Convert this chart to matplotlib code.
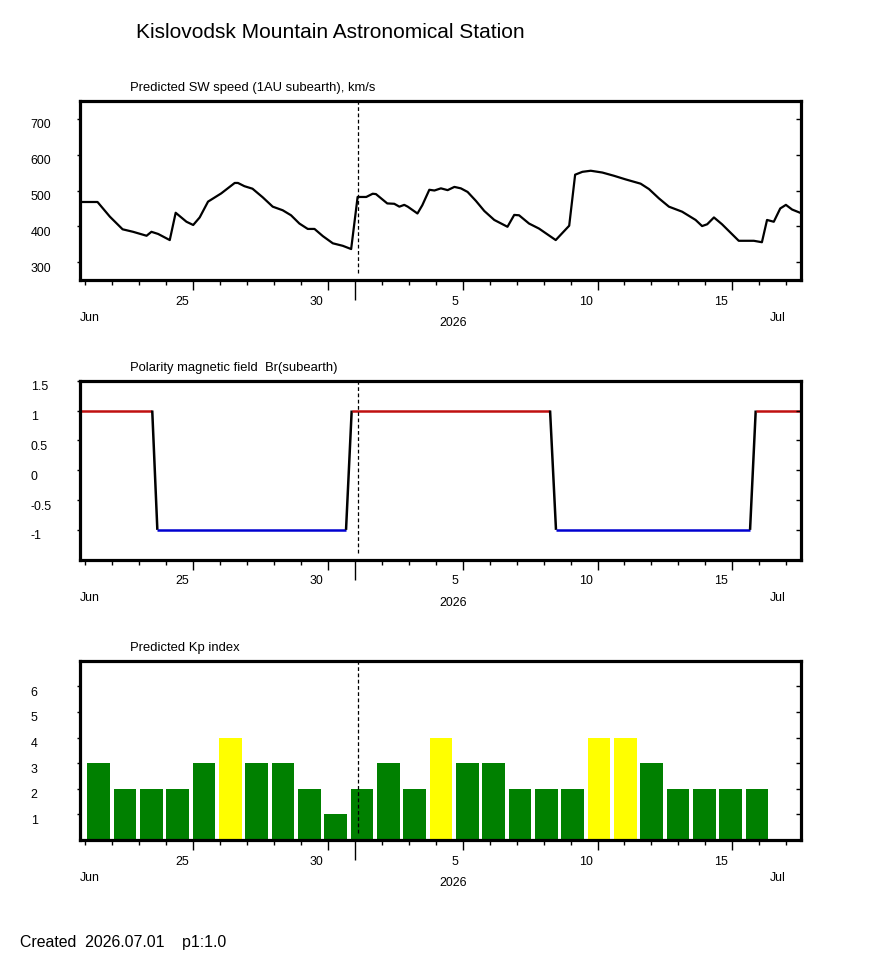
import numpy as np
import matplotlib
matplotlib.use("Agg")
import matplotlib.pyplot as plt
from matplotlib.transforms import ScaledTranslation

plt.rcParams['font.family'] = ['Liberation Sans', 'DejaVu Sans']

# x = day number counted from May 31 (Jun d -> d, Jul d -> 30 + d)
XMIN, XMAX = 20.8, 47.55
NOW_DAY = 31.1

sw_day = [20.8, 21.45, 21.91, 22.38, 22.77, 23.27, 23.45, 23.70, 24.13, 24.35,
          24.75, 25.0, 25.24, 25.55, 26.04, 26.54, 26.66, 26.9, 27.2, 27.58,
          27.95, 28.32, 28.63, 28.94, 29.25, 29.5, 29.81, 30.18, 30.55, 30.86,
          31.1, 31.42, 31.66, 31.78, 32.2, 32.46, 32.65, 32.83, 32.96, 33.32,
          33.5, 33.76, 33.95, 34.19, 34.44, 34.69, 34.93, 35.18, 35.49, 35.8,
          36.17, 36.66, 36.91, 37.09, 37.46, 37.83, 38.45, 38.95, 39.17, 39.44,
          39.75, 40.18, 40.61, 41.04, 41.6, 41.91, 42.28, 42.65, 43.14, 43.64,
          43.88, 44.07, 44.32, 44.62, 45.24, 45.8, 46.1, 46.29, 46.54, 46.78,
          46.99, 47.22, 47.55]
sw_speed = [468, 468, 427, 392, 385, 374, 385, 379, 362, 438,
            413, 404, 425, 469, 492, 521, 521, 512, 505, 481,
            455, 445, 431, 408, 393, 393, 373, 353, 346, 337,
            482, 482, 491, 490, 464, 463, 455, 460, 455, 436,
            459, 502, 500, 506, 501, 510, 506, 496, 471, 443,
            418, 399, 432, 431, 408, 394, 362, 402, 544, 552,
            555, 550, 541, 531, 519, 504, 478, 455, 441, 418,
            401, 406, 425, 406, 360, 360, 356, 418, 413, 450,
            460, 447, 437]

pol_day = [20.8, 23.48, 23.67, 30.67, 30.88, 38.24, 38.46, 45.66, 45.87, 47.55]
pol_val = [1, 1, -1, -1, 1, 1, -1, -1, 1, 1]

kp_values = [3, 2, 2, 2, 3, 4, 3, 3, 2, 1, 2, 3, 2, 4, 3, 3, 2, 2, 2, 4, 4, 3, 2, 2, 2, 2]
kp_first_day = 21.49
kp_step = 0.977

major_days = [25, 30, 31, 35, 40, 45]
major_labels = ['25', '30', '', '5', '10', '15']
minor_days = list(range(21, 48))

fig = plt.figure(figsize=(8.7, 9.65), dpi=100)
W, H = 870, 965


def px_axes(top, bottom, left=80, right=801):
    return fig.add_axes([left / W, 1 - bottom / H, (right - left) / W, (bottom - top) / H])


def style_axes(ax, ylim, yticks, ylabels, subtitle):
    ax.set_xlim(XMIN, XMAX)
    ax.set_ylim(*ylim)
    for s in ax.spines.values():
        s.set_linewidth(2.3)
    ax.tick_params(axis='y', direction='out', length=2.5, width=1, pad=33, labelsize=8.9)
    ax.tick_params(axis='x', which='major', direction='out', length=7.2, width=1, pad=4, labelsize=8.9)
    ax.tick_params(axis='x', which='minor', direction='out', length=3.6, width=1)
    ax.set_yticks(yticks, ylabels)
    ax.set_xticks(major_days, major_labels)
    ax.set_xticks(minor_days, minor=True)
    down = ScaledTranslation(0, -5 / 100, fig.dpi_scale_trans)
    for lab in ax.get_yticklabels():
        lab.set_horizontalalignment('left')
        lab.set_transform(lab.get_transform() + down)
    left = ScaledTranslation(-4.5 / 100, 0, fig.dpi_scale_trans)
    for lab in ax.get_xticklabels():
        lab.set_horizontalalignment('right')
        lab.set_transform(lab.get_transform() + left)
    # month boundary tick is longer
    ax.xaxis.get_major_ticks()[major_days.index(31)].tick1line.set_markersize(14.4)

    # inward ticks on the right side
    tw = ax.twinx()
    tw.set_ylim(*ylim)
    tw.set_yticks(yticks)
    tw.tick_params(axis='y', direction='in', length=3.6, width=1, labelright=False)
    for s in tw.spines.values():
        s.set_visible(False)

    ax.annotate(subtitle, xy=(0, 1), xycoords='axes fraction', xytext=(50, 12.5),
                textcoords='offset pixels', ha='left', va='center', fontsize=9.4)
    ax.annotate('Jun', xy=(0, 0), xycoords='axes fraction', xytext=(0, -38),
                textcoords='offset pixels', ha='left', va='center', fontsize=8.9)
    ax.annotate('2026', xy=(0.518, 0), xycoords='axes fraction', xytext=(0, -43),
                textcoords='offset pixels', ha='center', va='center', fontsize=8.9)
    ax.annotate('Jul', xy=(0.979, 0), xycoords='axes fraction', xytext=(0, -38),
                textcoords='offset pixels', ha='right', va='center', fontsize=8.9)
    ax.axvline(NOW_DAY, ymin=0.04, ymax=1, color='black', lw=0.9, ls=(0, (3, 2)), zorder=5)


# 1. solar wind speed
ax1 = px_axes(100.7, 280.3)
ax1.plot(sw_day, sw_speed, color='black', lw=1.6)
style_axes(ax1, (250, 750), [300, 400, 500, 600, 700], ['300', '400', '500', '600', '700'],
           'Predicted SW speed (1AU subearth), km/s')

# 2. polarity
ax2 = px_axes(380.7, 559.7)
for i in range(len(pol_day) - 1):
    v0, v1 = pol_val[i], pol_val[i + 1]
    if v0 == v1 == 1:
        c = '#c01010'
    elif v0 == v1 == -1:
        c = '#0000d0'
    else:
        c = 'black'
    ax2.plot(pol_day[i:i + 2], pol_val[i:i + 2], color=c, lw=1.8, solid_capstyle='butt')
style_axes(ax2, (-1.5, 1.5), [-1, -0.5, 0, 0.5, 1, 1.5], ['-1', '-0.5', '0', '0.5', '1', '1.5'],
           'Polarity magnetic field  Br(subearth)')

# 3. Kp index
ax3 = px_axes(660.7, 840)
kp_x = kp_first_day + kp_step * np.arange(len(kp_values))
kp_colors = ['#ffff00' if k >= 4 else '#008000' for k in kp_values]
ax3.bar(kp_x, kp_values, width=0.84, color=kp_colors, zorder=2)
style_axes(ax3, (0, 7), [1, 2, 3, 4, 5, 6], ['1', '2', '3', '4', '5', '6'],
           'Predicted Kp index')

fig.text(136 / W, 1 - 32 / H, 'Kislovodsk Mountain Astronomical Station',
         ha='left', va='center', fontsize=15)
fig.text(20 / W, 1 - 943 / H, 'Created  2026.07.01    p1:1.0',
         ha='left', va='center', fontsize=11.4)

fig.savefig('out.png', dpi=100)
